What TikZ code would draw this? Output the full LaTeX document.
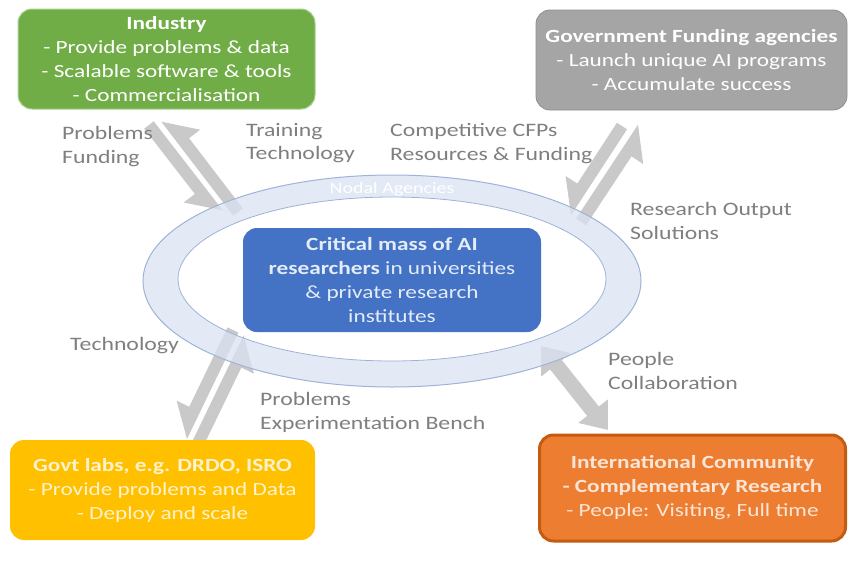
\documentclass[tikz,border=0pt]{standalone}
\usepackage{fontspec}
\setmainfont{Carlito}[FakeStretch=1.25]
\usetikzlibrary{calc,arrows.meta}
\definecolor{indgreen}{HTML}{70AD47}
\definecolor{indedge}{HTML}{A9D18E}
\definecolor{govgray}{HTML}{A5A5A5}
\definecolor{govedge}{HTML}{8F8F8F}
\definecolor{coreblue}{HTML}{4472C4}
\definecolor{coretext}{HTML}{E4ECF8}
\definecolor{labsyellow}{HTML}{FFC000}
\definecolor{labstext}{HTML}{FFF2CC}
\definecolor{intlorange}{HTML}{ED7D31}
\definecolor{intlborder}{HTML}{C55A11}
\definecolor{intltext}{HTML}{FBE5D6}
\definecolor{arrowgray}{HTML}{C9C9C9}
\definecolor{labelgray}{HTML}{7F7F7F}
\definecolor{ringfill}{HTML}{DAE3F3}
\definecolor{ringline}{HTML}{9FB3D8}
\newcommand{\harp}[3]{%
  \coordinate (#1b) at ($(#3)!30pt!(#2)$);
  \fill[arrowgray] (#2) -- ($(#2)!12pt!-90:(#3)$) -- ($(#1b)!12pt!-90:(#3)$)
     -- ($(#1b)!26pt!-90:(#3)$) -- (#3) -- cycle;}
\begin{document}
\begin{tikzpicture}[x=1pt,y=-1pt,
  box/.style={rectangle, rounded corners=14pt, align=center, inner sep=0pt,
    font=\fontsize{18.6}{24}\selectfont},
  lbl/.style={anchor=base west, align=left, inner sep=0pt, text=labelgray,
    font=\fontsize{19}{23.5}\selectfont},
  peoplearrow/.style={draw=arrowgray, line width=15pt,
    {Triangle[length=24pt,width=36pt]}-{Triangle[length=24pt,width=36pt]}}]
\useasboundingbox (0,0) rectangle (849,570);
\fill[white] (0,0) rectangle (849,570);
% split arrows
\coordinate (i1s) at (153.7,121.3); \coordinate (i1e) at (222.7,210.3);
\coordinate (i2s) at (233.3,215.7); \coordinate (i2e) at (161.3,121.7);
\coordinate (g1s) at (627,129.3);   \coordinate (g1e) at (571,215.3);
\coordinate (g2s) at (576,218.7);   \coordinate (g2e) at (638,124.7);
\coordinate (l1s) at (238.4,332.6); \coordinate (l1e) at (187,439);
\coordinate (l2s) at (192,442);     \coordinate (l2e) at (243.6,335.4);
\harp{i1}{i1s}{i1e}
\harp{i2}{i2s}{i2e}
\harp{g1}{g1s}{g1e}
\harp{g2}{g2s}{g2e}
\harp{l1}{l1s}{l1e}
\harp{l2}{l2s}{l2e}
\coordinate (pa) at (541,346);
\coordinate (pb) at (608,430);
\draw[peoplearrow] (pa) -- (pb);
% ring
\fill[ringfill, even odd rule, fill opacity=0.75]
  (392,281) ellipse [x radius=249pt, y radius=106pt]
  (392,279) ellipse [x radius=214pt, y radius=82pt];
\draw[ringline, line width=1pt] (392,281) ellipse [x radius=249pt, y radius=106pt];
\draw[ringline, line width=0.8pt] (392,279) ellipse [x radius=214pt, y radius=82pt];
\node[text=white, font=\fontsize{16}{18}\selectfont] (nodal) at (392,189) {Nodal Agencies};
% boxes
\node[box, fill=indgreen, draw=indedge, line width=1pt, text=white,
  minimum width=297pt, minimum height=100pt] (ind) at (166.5,59)
  {\textbf{Industry}\\- Provide problems \& data\\- Scalable software \& tools\\- Commercialisation};
\node[box, fill=govgray, draw=govedge, line width=0.8pt, text=white,
  minimum width=311pt, minimum height=100pt] (gov) at (691.5,60)
  {\textbf{Government Funding agencies}\\- Launch unique AI programs\\- Accumulate success};
\node[box, fill=coreblue, text=coretext,
  minimum width=298pt, minimum height=104pt] (core) at (392,280)
  {\textbf{Critical mass of AI}\\\textbf{researchers} in universities\\\& private research\\institutes};
\node[box, fill=labsyellow, text=labstext,
  minimum width=305pt, minimum height=100pt] (labs) at (162.5,490)
  {\textbf{Govt labs, e.g. DRDO, ISRO}\\- Provide problems and Data\\- Deploy and scale};
\node[box, fill=intlorange, draw=intlborder, line width=3pt, text=intltext,
  minimum width=306pt, minimum height=106pt] (intl) at (692.5,488)
  {\textbf{International Community}\\\textbf{- Complementary Research}\\- People: Visiting, Full time};
% labels
\node[lbl] (lpf) at (62,163) {Problems\\Funding};
\node[lbl] (ltt) at (246,159.5) {Training\\Technology};
\node[lbl] (lcr) at (390,160) {Competitive CFPs\\Resources \& Funding};
\node[lbl] (lro) at (630,239) {Research Output\\Solutions};
\node[lbl] (lte) at (70,350) {Technology};
\node[lbl] (lpe) at (260,429) {Problems\\Experimentation Bench};
\node[lbl] (lpc) at (608,389) {People\\Collaboration};
\end{tikzpicture}
\end{document}
